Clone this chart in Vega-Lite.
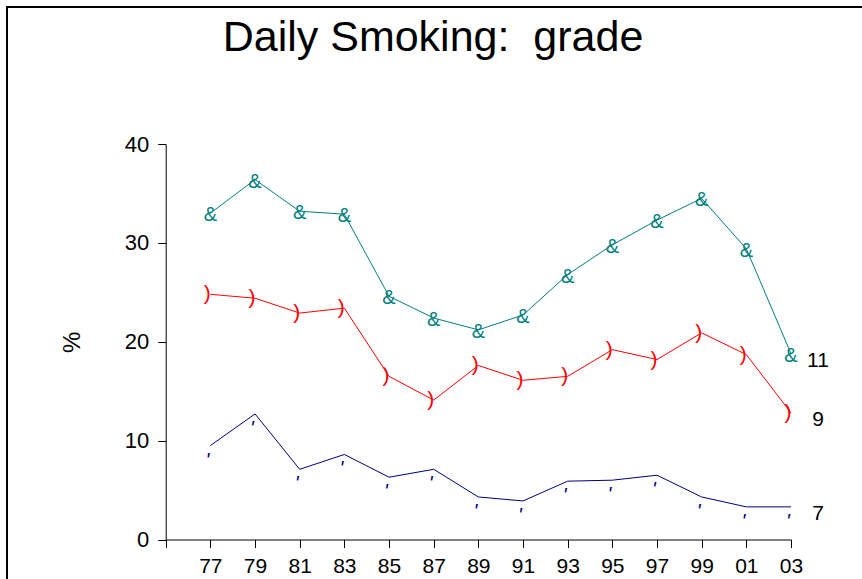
{
  "$schema": "https://vega.github.io/schema/vega-lite/v6.json",
  "width": 870,
  "height": 590,
  "autosize": {"type": "none"},
  "padding": {"left": 7, "top": 7, "right": 0, "bottom": 0},
  "background": "white",
  "config": {"view": {"stroke": "black", "strokeWidth": 2}, "font": "Liberation Sans"},
  "data": {"values": [
    {"year": 1977, "grade": "11", "pct": 33.0},
    {"year": 1979, "grade": "11", "pct": 36.4},
    {"year": 1981, "grade": "11", "pct": 33.2},
    {"year": 1983, "grade": "11", "pct": 32.9},
    {"year": 1985, "grade": "11", "pct": 24.6},
    {"year": 1987, "grade": "11", "pct": 22.4},
    {"year": 1989, "grade": "11", "pct": 21.2},
    {"year": 1991, "grade": "11", "pct": 22.7},
    {"year": 1993, "grade": "11", "pct": 26.8},
    {"year": 1995, "grade": "11", "pct": 29.8},
    {"year": 1997, "grade": "11", "pct": 32.3},
    {"year": 1999, "grade": "11", "pct": 34.5},
    {"year": 2001, "grade": "11", "pct": 29.4},
    {"year": 2003, "grade": "11", "pct": 18.8},
    {"year": 1977, "grade": "9", "pct": 24.8},
    {"year": 1979, "grade": "9", "pct": 24.4},
    {"year": 1981, "grade": "9", "pct": 22.9},
    {"year": 1983, "grade": "9", "pct": 23.4},
    {"year": 1985, "grade": "9", "pct": 16.5},
    {"year": 1987, "grade": "9", "pct": 14.1},
    {"year": 1989, "grade": "9", "pct": 17.6},
    {"year": 1991, "grade": "9", "pct": 16.1},
    {"year": 1993, "grade": "9", "pct": 16.5},
    {"year": 1995, "grade": "9", "pct": 19.2},
    {"year": 1997, "grade": "9", "pct": 18.2},
    {"year": 1999, "grade": "9", "pct": 20.9},
    {"year": 2001, "grade": "9", "pct": 18.7},
    {"year": 2003, "grade": "9", "pct": 12.8},
    {"year": 1977, "grade": "7", "pct": 9.5},
    {"year": 1979, "grade": "7", "pct": 12.7},
    {"year": 1981, "grade": "7", "pct": 7.1},
    {"year": 1983, "grade": "7", "pct": 8.6},
    {"year": 1985, "grade": "7", "pct": 6.3},
    {"year": 1987, "grade": "7", "pct": 7.1},
    {"year": 1989, "grade": "7", "pct": 4.3},
    {"year": 1991, "grade": "7", "pct": 3.9},
    {"year": 1993, "grade": "7", "pct": 5.9},
    {"year": 1995, "grade": "7", "pct": 6.0},
    {"year": 1997, "grade": "7", "pct": 6.5},
    {"year": 1999, "grade": "7", "pct": 4.3},
    {"year": 2001, "grade": "7", "pct": 3.3},
    {"year": 2003, "grade": "7", "pct": 3.3}
  ]},
  "encoding": {
    "y": {
      "field": "pct", "type": "quantitative",
      "scale": {"domain": [0, 40], "range": [532.5, 137], "nice": false, "zero": false},
      "axis": {
        "orient": "left", "offset": -158.7, "title": "%", "grid": false,
        "values": [0, 10, 20, 30, 40],
        "titleFontSize": 24, "titleFontWeight": "normal", "titleColor": "black", "titleFont": "Liberation Sans", "titlePadding": 40,
        "domainColor": "black", "domainWidth": 1, "tickColor": "black", "tickSize": 8, "tickWidth": 1,
        "labelFontSize": 22, "labelColor": "black", "labelPadding": 9, "labelFont": "Liberation Sans"
      }
    }
  },
  "resolve": {"axis": {"x": "independent"}},
  "layer": [
    {
      "encoding": {
        "x": {
          "field": "year", "type": "quantitative",
          "scale": {"domain": [1975, 2003], "range": [158.7, 784], "nice": false, "zero": false},
          "axis": {
            "orient": "bottom", "offset": -57.5, "title": null, "grid": false,
            "values": [1975, 1977, 1979, 1981, 1983, 1985, 1987, 1989, 1991, 1993, 1995, 1997, 1999, 2001, 2003],
            "labelExpr": "datum.value < 1976 ? '' : substring(toString(datum.value), 2)",
            "domainColor": "black", "domainWidth": 1, "tickColor": "black", "tickSize": 8, "tickWidth": 1,
            "labelFontSize": 21, "labelColor": "black", "labelPadding": 8, "labelFont": "Liberation Sans",
            "labelOverlap": false, "labelFlush": false
          }
        }
      },
      "layer": [
        {
          "mark": {"type": "line", "strokeWidth": 1},
          "encoding": {
            "color": {"field": "grade", "type": "nominal", "scale": {"domain": ["11", "9", "7"], "range": ["#008080", "#ff0000", "#000080"]}, "legend": null}
          }
        },
        {
          "transform": [{"filter": "datum.grade == '11'"}],
          "mark": {"type": "text", "text": "&", "fontSize": 20, "color": "#008080", "align": "center", "baseline": "middle", "dy": 2, "font": "Liberation Sans"}
        },
        {
          "transform": [{"filter": "datum.grade == '9'"}],
          "mark": {"type": "text", "text": ")", "fontSize": 21, "color": "#ff0000", "align": "center", "baseline": "middle", "dx": -3, "font": "Liberation Sans"}
        },
        {
          "transform": [{"filter": "datum.grade == '7'"}],
          "mark": {"type": "text", "text": "'", "fontSize": 20, "fontStyle": "italic", "color": "#000080", "align": "center", "baseline": "middle", "dx": -3, "dy": 15, "font": "Liberation Sans"}
        },
        {
          "transform": [{"filter": "datum.year == 2003"}],
          "mark": {"type": "text", "fontSize": 21, "color": "black", "align": "center", "baseline": "middle", "dx": 27, "dy": 7, "font": "Liberation Sans"},
          "encoding": {"text": {"field": "grade"}}
        }
      ]
    },
    {
      "mark": {"type": "point", "opacity": 0},
      "encoding": {
        "x": {
          "field": "year", "type": "quantitative",
          "scale": {"domain": [1975, 2003], "range": [158.7, 784], "nice": false, "zero": false},
          "axis": {
            "orient": "top", "offset": -43, "title": "Daily Smoking:\u00a0 grade",
            "labels": false, "ticks": false, "domain": false, "grid": false,
            "titleFontSize": 43, "titleFontWeight": "normal", "titleFont": "Liberation Sans", "titleColor": "black",
            "titlePadding": 0, "titleBaseline": "alphabetic", "titleAlign": "center", "titleX": 425.5
          }
        }
      }
    }
  ]
}
